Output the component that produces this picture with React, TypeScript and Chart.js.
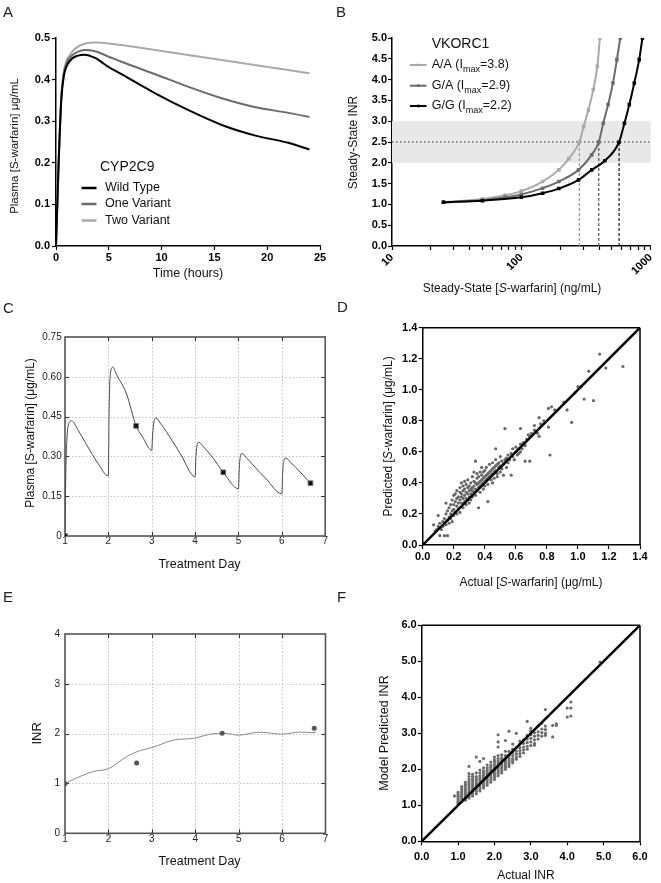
import React, { useEffect, useRef } from "react";
import { Chart, registerables } from "chart.js";

Chart.register(...registerables);

const FONT = "'Liberation Sans', Arial, Helvetica, sans-serif";
Chart.defaults.font.family = FONT;
Chart.defaults.color = "#111";

// ---------------- Panel A : plasma S-warfarin vs time ----------------
const A_TIME = [0, 0.25, 0.5, 0.75, 1, 1.5, 2, 2.7, 3.7, 5, 6.2, 9.4, 12.5, 15.7, 18.8, 22, 24];
const A_WILD = [0, 0.2, 0.35, 0.41, 0.432, 0.45, 0.457, 0.46, 0.452, 0.43, 0.413, 0.367, 0.327, 0.291, 0.266, 0.248, 0.232];
const A_ONE = [0, 0.2, 0.355, 0.415, 0.44, 0.458, 0.466, 0.471, 0.468, 0.455, 0.443, 0.413, 0.383, 0.355, 0.334, 0.32, 0.31];
const A_TWO = [0, 0.2, 0.36, 0.42, 0.445, 0.466, 0.478, 0.486, 0.489, 0.487, 0.483, 0.471, 0.459, 0.447, 0.435, 0.423, 0.415];
const A_NAMES = ["Wild Type", "One Variant", "Two Variant"];
const A_COLORS = ["#000000", "#6b6b6b", "#a9a9a9"];

// ---------------- Panel B : steady-state INR vs concentration ----------------
const B_AA_X = [25, 50, 75, 100, 146, 195, 233, 281, 303, 330, 360, 387, 405];
const B_AA_Y = [1.05, 1.13, 1.22, 1.32, 1.55, 1.83, 2.1, 2.5, 2.87, 3.27, 3.76, 4.32, 5.0];
const B_GA_X = [25, 50, 75, 100, 146, 195, 277, 350, 397, 430, 469, 511, 548, 582];
const B_GA_Y = [1.05, 1.1, 1.17, 1.24, 1.39, 1.55, 1.83, 2.19, 2.5, 2.95, 3.4, 3.92, 4.48, 5.0];
const B_GG_X = [25, 50, 100, 146, 195, 277, 350, 442, 570, 627, 684, 747, 815, 864];
const B_GG_Y = [1.05, 1.09, 1.17, 1.27, 1.38, 1.59, 1.83, 2.05, 2.5, 2.95, 3.4, 3.92, 4.48, 5.0];
const B_CROSS = [281, 397, 570];
const B_NAMES = ["A/A (I", "G/A (I", "G/G (I"];
const B_IMAX = ["=3.8)", "=2.9)", "=2.2)"];
const B_COLORS = ["#a9a9a9", "#6b6b6b", "#000000"];
const B_TARGET = 2.5;
const B_BAND = [2, 3];
const B_XTICKS = [10, 20, 30, 40, 50, 60, 70, 80, 90, 100, 200, 300, 400, 500, 600, 700, 800, 900, 1000];
const B_XLABELS = [10, 100, 1000];

// ---------------- Panel C : simulated plasma concentration by day ----------------
const C_DAY = [1.0, 1.02, 1.05, 1.1, 1.15, 1.3, 1.49, 1.76, 2.0,
  2.015, 2.04, 2.1, 2.2, 2.42, 2.64, 2.78, 3.0,
  3.02, 3.05, 3.1, 3.2, 3.35, 3.66, 4.0,
  4.02, 4.05, 4.09, 4.2, 4.4, 4.65, 5.0,
  5.02, 5.05, 5.08, 5.2, 5.4, 5.64, 6.0,
  6.02, 6.05, 6.09, 6.2, 6.4, 6.66];
const C_CONC = [0, 0.25, 0.38, 0.428, 0.434, 0.4, 0.346, 0.274, 0.226,
  0.45, 0.6, 0.636, 0.605, 0.535, 0.415, 0.376, 0.323,
  0.38, 0.43, 0.444, 0.425, 0.39, 0.31, 0.224,
  0.3, 0.345, 0.353, 0.335, 0.297, 0.24, 0.178,
  0.26, 0.305, 0.311, 0.292, 0.256, 0.215, 0.159,
  0.245, 0.285, 0.294, 0.278, 0.245, 0.199];
const C_OBS_DAY = [1.0, 2.64, 4.65, 6.66];
const C_OBS_CONC = [0, 0.415, 0.24, 0.199];

// ---------------- Panel D : predicted vs actual S-warfarin ----------------
const D_POINTS: [number, number][] = [
  [0.07, 0.13], [0.08, 0.09], [0.09, 0.1], [0.1, 0.19], [0.1, 0.12], [0.11, 0.06], [0.11, 0.14], [0.12, 0.1],
  [0.13, 0.15], [0.13, 0.12], [0.14, 0.06], [0.14, 0.17], [0.15, 0.27], [0.15, 0.13], [0.15, 0.2], [0.16, 0.16],
  [0.16, 0.22], [0.17, 0.18], [0.17, 0.14], [0.17, 0.24], [0.18, 0.2], [0.18, 0.17], [0.18, 0.26], [0.19, 0.22],
  [0.19, 0.15], [0.19, 0.29], [0.2, 0.23], [0.2, 0.19], [0.2, 0.32], [0.2, 0.26],
  [0.21, 0.21], [0.21, 0.28], [0.21, 0.33], [0.22, 0.25], [0.22, 0.3], [0.22, 0.2], [0.22, 0.35], [0.23, 0.27],
  [0.23, 0.31], [0.23, 0.23], [0.24, 0.29], [0.24, 0.34], [0.24, 0.21], [0.24, 0.37], [0.25, 0.31], [0.25, 0.27],
  [0.25, 0.33], [0.25, 0.4], [0.26, 0.3], [0.26, 0.24], [0.26, 0.35], [0.26, 0.38], [0.27, 0.32], [0.27, 0.28],
  [0.27, 0.36], [0.27, 0.41], [0.28, 0.3], [0.28, 0.34], [0.28, 0.26], [0.28, 0.39], [0.29, 0.33], [0.29, 0.37],
  [0.29, 0.29], [0.29, 0.42], [0.3, 0.35], [0.3, 0.31], [0.3, 0.38], [0.3, 0.27],
  [0.31, 0.36], [0.31, 0.33], [0.31, 0.4], [0.31, 0.29], [0.32, 0.37], [0.32, 0.35], [0.32, 0.44], [0.32, 0.31],
  [0.33, 0.38], [0.33, 0.34], [0.33, 0.41], [0.33, 0.47], [0.34, 0.36], [0.34, 0.4], [0.34, 0.32], [0.34, 0.54],
  [0.35, 0.39], [0.35, 0.43], [0.35, 0.35], [0.35, 0.46], [0.36, 0.4], [0.36, 0.37], [0.36, 0.44], [0.36, 0.24],
  [0.37, 0.41], [0.37, 0.38], [0.37, 0.47], [0.37, 0.34], [0.38, 0.42], [0.38, 0.45], [0.38, 0.39], [0.38, 0.5],
  [0.39, 0.43], [0.39, 0.4], [0.39, 0.47], [0.39, 0.36], [0.4, 0.44], [0.4, 0.41], [0.4, 0.48], [0.4, 0.38],
  [0.41, 0.45], [0.41, 0.42], [0.41, 0.5], [0.42, 0.46], [0.42, 0.43], [0.42, 0.39], [0.42, 0.28], [0.43, 0.47],
  [0.43, 0.44], [0.43, 0.52], [0.44, 0.48], [0.44, 0.42], [0.44, 0.45], [0.45, 0.49], [0.45, 0.46], [0.45, 0.4],
  [0.45, 0.53], [0.46, 0.47], [0.46, 0.5], [0.46, 0.43], [0.47, 0.51], [0.47, 0.48], [0.47, 0.55], [0.47, 0.62],
  [0.48, 0.46], [0.48, 0.52], [0.48, 0.44], [0.49, 0.5], [0.49, 0.53], [0.5, 0.57], [0.5, 0.47], [0.5, 0.51],
  [0.51, 0.54], [0.51, 0.49], [0.52, 0.52], [0.52, 0.45], [0.53, 0.55], [0.53, 0.75], [0.54, 0.5], [0.54, 0.56],
  [0.55, 0.58], [0.55, 0.53], [0.56, 0.55], [0.57, 0.59], [0.57, 0.45], [0.58, 0.57], [0.58, 0.62], [0.59, 0.55],
  [0.6, 0.6], [0.6, 0.63], [0.61, 0.58], [0.62, 0.59], [0.62, 0.62], [0.63, 0.6], [0.63, 0.65], [0.63, 0.75],
  [0.64, 0.62], [0.65, 0.66], [0.66, 0.54], [0.66, 0.64], [0.67, 0.68], [0.68, 0.71], [0.69, 0.7], [0.69, 0.54],
  [0.7, 0.72], [0.72, 0.74], [0.72, 0.77], [0.74, 0.72], [0.75, 0.82], [0.75, 0.7], [0.76, 0.78], [0.78, 0.8],
  [0.81, 0.88], [0.81, 0.76], [0.82, 0.58], [0.83, 0.89], [0.85, 0.87], [0.91, 0.92], [0.93, 0.87], [0.96, 0.79],
  [0.98, 0.98], [1.0, 1.02], [1.02, 1.02], [1.04, 0.94], [1.07, 1.12], [1.1, 0.93], [1.14, 1.23], [1.18, 1.14],
  [1.29, 1.15], [0.16, 0.06],
];
const D_MAX = 1.4;

// ---------------- Panel E : INR by day ----------------
const E_DAY = [1, 1.19, 1.65, 2.01, 2.42, 2.73, 3.0, 3.5, 3.99, 4.34, 4.65, 4.99, 5.49, 5.99, 6.41, 6.78];
const E_INR = [1, 1.08, 1.24, 1.3, 1.54, 1.66, 1.72, 1.87, 1.91, 1.99, 2.01, 1.97, 2.03, 1.99, 2.03, 2.02];
const E_OBS_DAY = [1.0, 2.65, 4.62, 6.74];
const E_OBS_INR = [1.0, 1.41, 2.01, 2.11];

// ---------------- Panel F : model predicted vs actual INR ----------------
const F_STRIPES: [number, number[]][] = [
  [0.9, [1.26]],
  [1.0, [1.06, 1.1, 1.15, 1.2, 1.25, 1.3, 1.36]],
  [1.1, [1.1, 1.15, 1.2, 1.25, 1.3, 1.35, 1.4, 1.46, 1.52]],
  [1.2, [1.14, 1.19, 1.24, 1.3, 1.35, 1.4, 1.46, 1.52, 1.58, 1.64]],
  [1.3, [1.2, 1.25, 1.3, 1.36, 1.42, 1.48, 1.54, 1.6, 1.66, 1.72, 1.8, 1.88, 2.08]],
  [1.4, [1.26, 1.32, 1.38, 1.44, 1.5, 1.56, 1.62, 1.68, 1.74, 1.8, 1.86]],
  [1.5, [1.32, 1.38, 1.44, 1.5, 1.56, 1.62, 1.68, 1.74, 1.8, 1.9, 2.34]],
  [1.6, [1.4, 1.46, 1.52, 1.58, 1.64, 1.7, 1.76, 1.82, 1.9, 1.98, 2.22]],
  [1.7, [1.48, 1.54, 1.6, 1.66, 1.72, 1.78, 1.84, 1.9, 1.96, 2.04, 2.3]],
  [1.8, [1.56, 1.62, 1.68, 1.74, 1.8, 1.86, 1.92, 1.98, 2.04, 2.12]],
  [1.9, [1.64, 1.7, 1.76, 1.82, 1.88, 1.94, 2.0, 2.06, 2.12, 2.2]],
  [2.0, [1.72, 1.78, 1.84, 1.9, 1.96, 2.02, 2.08, 2.14, 2.2, 2.26, 2.34]],
  [2.1, [1.82, 1.88, 1.94, 2.0, 2.06, 2.12, 2.18, 2.24, 2.3, 2.38, 2.62, 2.76, 2.96]],
  [2.2, [1.9, 1.96, 2.02, 2.08, 2.14, 2.2, 2.26, 2.32, 2.4]],
  [2.3, [2.0, 2.06, 2.12, 2.18, 2.24, 2.3, 2.38, 2.5, 2.8]],
  [2.4, [2.08, 2.14, 2.2, 2.26, 2.32, 2.4, 2.5, 3.06]],
  [2.5, [2.18, 2.24, 2.3, 2.38, 2.46, 2.56, 2.7]],
  [2.6, [2.28, 2.34, 2.42, 2.5, 2.6, 3.0]],
  [2.7, [2.36, 2.44, 2.52, 2.6, 2.7, 2.78]],
  [2.8, [2.46, 2.54, 2.62, 2.72, 2.82]],
  [2.9, [2.56, 2.64, 2.74, 2.84, 2.94, 3.33]],
  [3.0, [2.66, 2.76, 2.86, 2.96, 3.06, 3.14]],
  [3.1, [2.67, 2.72, 2.82, 2.92, 3.02]],
  [3.2, [2.84, 2.94, 3.04, 3.2]],
  [3.3, [2.92, 3.02, 3.12, 3.28]],
  [3.4, [2.94, 3.0, 3.1, 3.2, 3.66]],
  [3.6, [2.9, 3.22]],
  [3.7, [3.22, 3.26]],
  [4.0, [3.45, 3.7]],
  [4.1, [3.48, 3.7, 3.87]],
  [4.9, [4.98]],
];
const F_MAX = 6;

// ---------------- helpers ----------------
type Area = { w: number; h: number; l: number; t: number; r: number; b: number };
type Seg = { t: string; it?: boolean; sub?: boolean };

function richText(ctx: CanvasRenderingContext2D, segs: Seg[], x: number, y: number, size: number, rot = false, align: "center" | "left" = "center") {
  ctx.save();
  ctx.translate(x, y);
  if (rot) ctx.rotate(-Math.PI / 2);
  ctx.fillStyle = "#111";
  ctx.textBaseline = "middle";
  ctx.textAlign = "left";
  const fontOf = (s: Seg) => `${s.it ? "italic " : ""}${s.sub ? Math.round(size * 0.72) : size}px ${FONT}`;
  let total = 0;
  for (const s of segs) {
    ctx.font = fontOf(s);
    total += ctx.measureText(s.t).width;
  }
  let cx = align === "left" ? 0 : -total / 2;
  for (const s of segs) {
    ctx.font = fontOf(s);
    ctx.fillText(s.t, cx, s.sub ? size * 0.38 : 0);
    cx += ctx.measureText(s.t).width;
  }
  ctx.restore();
}

function letter(ctx: CanvasRenderingContext2D, t: string, x: number, y: number) {
  ctx.save();
  ctx.font = `15px ${FONT}`;
  ctx.fillStyle = "#222";
  ctx.textBaseline = "alphabetic";
  ctx.textAlign = "left";
  ctx.fillText(t, x, y);
  ctx.restore();
}

function seg(ctx: CanvasRenderingContext2D, x1: number, y1: number, x2: number, y2: number) {
  ctx.beginPath();
  ctx.moveTo(x1, y1);
  ctx.lineTo(x2, y2);
  ctx.stroke();
}

function baseOptions(a: Area, scales: any) {
  return {
    responsive: false,
    maintainAspectRatio: false,
    animation: false,
    devicePixelRatio: 1,
    events: [],
    layout: { padding: { left: 0, top: a.t, right: a.w - a.r, bottom: 0 } },
    plugins: { legend: { display: false }, tooltip: { enabled: false } },
    scales,
  };
}

function prismAxis(axis: "x" | "y", a: Area, extra: any) {
  const { ticks, ...rest } = extra;
  return {
    type: "linear",
    afterFit: (s: any) => {
      if (axis === "x") s.height = a.h - a.b;
      else s.width = a.l;
    },
    grid: { drawOnChartArea: false, drawTicks: true, tickLength: 4, tickColor: "#000", tickWidth: 1.2 },
    border: { display: true, color: "#000", width: 1.5 },
    ...rest,
    ticks: { font: { size: 11, weight: "bold" }, color: "#000", autoSkip: false, maxRotation: 0, ...ticks },
  };
}

function boxAxis(axis: "x" | "y", a: Area, extra: any) {
  const { ticks, ...rest } = extra;
  return {
    type: "linear",
    afterFit: (s: any) => {
      if (axis === "x") s.height = a.h - a.b;
      else s.width = a.l;
    },
    grid: { display: false, drawTicks: false, tickLength: 0 },
    border: { display: false },
    ...rest,
    ticks: { font: { size: 10 }, color: "#222", autoSkip: false, maxRotation: 0, ...ticks },
  };
}

function boxDecor(chart: any) {
  const { ctx, chartArea: ca, scales } = chart;
  const xs = scales.x.ticks.map((t: any) => t.value);
  const ys = scales.y.ticks.map((t: any) => t.value);
  ctx.save();
  ctx.strokeStyle = "#c4c4c4";
  ctx.lineWidth = 1;
  ctx.setLineDash([1.5, 2]);
  for (const v of xs.slice(1, -1)) {
    const p = Math.round(scales.x.getPixelForValue(v)) + 0.5;
    seg(ctx, p, ca.top, p, ca.bottom);
  }
  for (const v of ys.slice(1, -1)) {
    const p = Math.round(scales.y.getPixelForValue(v)) + 0.5;
    seg(ctx, ca.left, p, ca.right, p);
  }
  ctx.setLineDash([]);
  ctx.strokeStyle = "#333";
  ctx.lineWidth = 1.1;
  for (const v of xs.slice(1, -1)) {
    const p = Math.round(scales.x.getPixelForValue(v)) + 0.5;
    seg(ctx, p, ca.bottom, p, ca.bottom - 4);
    seg(ctx, p, ca.top, p, ca.top + 4);
  }
  for (const v of ys.slice(1, -1)) {
    const p = Math.round(scales.y.getPixelForValue(v)) + 0.5;
    seg(ctx, ca.left, p, ca.left + 4, p);
    seg(ctx, ca.right, p, ca.right - 4, p);
  }
  ctx.strokeStyle = "#555";
  ctx.lineWidth = 1.6;
  ctx.strokeRect(ca.left, ca.top, ca.right - ca.left, ca.bottom - ca.top);
  ctx.restore();
}

function frameTopRight(chart: any) {
  const { ctx, chartArea: ca } = chart;
  ctx.save();
  ctx.strokeStyle = "#000";
  ctx.lineWidth = 1.5;
  seg(ctx, ca.left, ca.top, ca.right, ca.top);
  seg(ctx, ca.right, ca.top, ca.right, ca.bottom);
  ctx.restore();
}

const xy = (xs: number[], ys: number[]) => xs.map((x, i) => ({ x, y: ys[i] }));

// ---------------- chart configs ----------------
const AREA_A: Area = { w: 330, h: 290, l: 56, t: 38, r: 320, b: 246 };
function makeA(): any {
  const a = AREA_A;
  const series = [A_WILD, A_ONE, A_TWO];
  return {
    type: "scatter",
    data: {
      datasets: series.map((s, i) => ({
        data: xy(A_TIME, s),
        showLine: true,
        borderColor: A_COLORS[i],
        borderWidth: 2,
        pointRadius: 0,
        cubicInterpolationMode: "monotone",
      })),
    },
    options: baseOptions(a, {
      x: prismAxis("x", a, { min: 0, max: 25, ticks: { stepSize: 5, padding: 1 } }),
      y: prismAxis("y", a, { min: 0, max: 0.5, ticks: { stepSize: 0.1, padding: 2, callback: (v: any) => Number(v).toFixed(1) } }),
    }),
    plugins: [{
      id: "decoA",
      afterDraw(chart: any) {
        const ctx = chart.ctx;
        letter(ctx, "A", 3, 17);
        richText(ctx, [{ t: "Plasma [S-warfarin] μg/mL" }], 15, 146, 11.5, true);
        richText(ctx, [{ t: "Time (hours)" }], 188, 274, 12.5);
        richText(ctx, [{ t: "CYP2C9" }], 100, 167, 14, false, "left");
        const ys = [188, 204, 220.5];
        ctx.save();
        ctx.lineWidth = 2.5;
        A_NAMES.forEach((n, i) => {
          ctx.strokeStyle = A_COLORS[i];
          seg(ctx, 81.5, ys[i], 96.5, ys[i]);
          richText(ctx, [{ t: n }], 105, ys[i], 12.5, false, "left");
        });
        ctx.restore();
      },
    }],
  };
}

const AREA_B: Area = { w: 331, h: 300, l: 62, t: 38, r: 325, b: 246 };
function makeB(): any {
  const a = AREA_B;
  const curves = [
    { d: xy(B_GG_X, B_GG_Y), c: B_COLORS[2] },
    { d: xy(B_GA_X, B_GA_Y), c: B_COLORS[1] },
    { d: xy(B_AA_X, B_AA_Y), c: B_COLORS[0] },
  ];
  const datasets: any[] = curves.map((cv) => ({
    data: cv.d,
    showLine: true,
    borderColor: cv.c,
    backgroundColor: cv.c,
    borderWidth: 2,
    pointRadius: 1.1,
    pointStyle: "rect",
    cubicInterpolationMode: "monotone",
  }));
  B_CROSS.forEach((x, i) => {
    datasets.push({
      data: [{ x, y: 0 }, { x, y: B_TARGET }],
      showLine: true,
      borderColor: ["#9a9a9a", "#555", "#111"][i],
      borderWidth: 1.2,
      borderDash: [3, 2],
      pointRadius: 0,
    });
  });
  datasets.push({
    data: [{ x: 10, y: B_TARGET }, { x: 1000, y: B_TARGET }],
    showLine: true,
    borderColor: "#333",
    borderWidth: 1,
    borderDash: [1.5, 2.5],
    pointRadius: 0,
  });
  return {
    type: "scatter",
    data: { datasets },
    options: baseOptions(a, {
      x: prismAxis("x", a, {
        type: "logarithmic",
        min: 10,
        max: 1000,
        afterBuildTicks: (s: any) => { s.ticks = B_XTICKS.map((v) => ({ value: v })); },
        ticks: {
          padding: 1,
          minRotation: 45,
          maxRotation: 45,
          callback: (v: any) => (B_XLABELS.includes(Number(v)) ? String(v) : ""),
        },
      }),
      y: prismAxis("y", a, { min: 0, max: 5, ticks: { stepSize: 0.5, padding: 1, callback: (v: any) => Number(v).toFixed(1) } }),
    }),
    plugins: [{
      id: "decoB",
      beforeDatasetsDraw(chart: any) {
        const { ctx, chartArea: ca, scales } = chart;
        const y1 = scales.y.getPixelForValue(B_BAND[1]);
        const y0 = scales.y.getPixelForValue(B_BAND[0]);
        ctx.save();
        ctx.fillStyle = "#e8e8e8";
        ctx.fillRect(ca.left, y1, ca.right - ca.left, y0 - y1);
        ctx.restore();
      },
      afterDraw(chart: any) {
        const ctx = chart.ctx;
        letter(ctx, "B", 6, 17);
        richText(ctx, [{ t: "Steady-State INR" }], 23.3, 142.5, 12, true);
        richText(ctx, [{ t: "Steady-State [" }, { t: "S", it: true }, { t: "-warfarin] (ng/mL)" }], 182, 289, 12);
        richText(ctx, [{ t: "VKORC1" }], 101.7, 44, 14, false, "left");
        const ys = [65, 85.7, 106];
        ctx.save();
        B_NAMES.forEach((n, i) => {
          ctx.strokeStyle = B_COLORS[i];
          ctx.fillStyle = B_COLORS[i];
          ctx.lineWidth = 2;
          seg(ctx, 80, ys[i], 96.5, ys[i]);
          ctx.fillRect(87, ys[i] - 1.3, 2.6, 2.6);
          richText(ctx, [{ t: n }, { t: "max", sub: true }, { t: B_IMAX[i] }], 101.7, ys[i], 12.5, false, "left");
        });
        ctx.restore();
      },
    }],
  };
}

const AREA_C: Area = { w: 330, h: 300, l: 65, t: 47, r: 325.5, b: 246 };
function makeC(): any {
  const a = AREA_C;
  return {
    type: "scatter",
    data: {
      datasets: [
        {
          data: xy(C_OBS_DAY, C_OBS_CONC),
          pointStyle: "rect",
          pointRadius: 3.4,
          backgroundColor: "#111",
          borderColor: "#777",
          borderWidth: 0.8,
        },
        {
          data: xy(C_DAY, C_CONC),
          showLine: true,
          borderColor: "#4a4a4a",
          borderWidth: 1,
          pointRadius: 0,
          cubicInterpolationMode: "monotone",
        },
      ],
    },
    options: baseOptions(a, {
      x: boxAxis("x", a, { min: 1, max: 7, ticks: { stepSize: 1, padding: -1 } }),
      y: boxAxis("y", a, {
        min: 0, max: 0.75,
        ticks: { stepSize: 0.15, padding: 3.3, callback: (v: any) => (Number(v) === 0 ? "0" : Number(v).toFixed(2)) },
      }),
    }),
    plugins: [{
      id: "decoC",
      beforeDatasetsDraw(chart: any) { boxDecor(chart); },
      afterDraw(chart: any) {
        const ctx = chart.ctx;
        letter(ctx, "C", 3, 23);
        richText(ctx, [{ t: "Plasma [S-warfarin] (μg/mL)" }], 31, 143, 12, true);
        richText(ctx, [{ t: "Treatment Day" }], 199.5, 275, 12.5);
      },
    }],
  };
}

const AREA_D: Area = { w: 331, h: 300, l: 92.7, t: 37.7, r: 310, b: 255 };
function makeD(): any {
  const a = AREA_D;
  return {
    type: "scatter",
    data: {
      datasets: [
        {
          data: [{ x: 0, y: 0 }, { x: D_MAX, y: D_MAX }],
          showLine: true,
          borderColor: "#000",
          borderWidth: 2.5,
          pointRadius: 0,
        },
        {
          data: D_POINTS.map(([x, y]) => ({ x, y })),
          pointRadius: 1.6,
          backgroundColor: "#686868",
          borderWidth: 0,
        },
      ],
    },
    options: baseOptions(a, {
      x: prismAxis("x", a, { min: 0, max: D_MAX, ticks: { stepSize: 0.2, padding: 1.5, callback: (v: any) => Number(v).toFixed(1) } }),
      y: prismAxis("y", a, { min: 0, max: D_MAX, ticks: { stepSize: 0.2, padding: 1.4, callback: (v: any) => Number(v).toFixed(1) } }),
    }),
    plugins: [{
      id: "decoD",
      afterDraw(chart: any) {
        const ctx = chart.ctx;
        frameTopRight(chart);
        letter(ctx, "D", 7, 22);
        richText(ctx, [{ t: "Predicted [" }, { t: "S", it: true }, { t: "-warfarin] (μg/mL)" }], 58.3, 146.4, 12, true);
        richText(ctx, [{ t: "Actual [" }, { t: "S", it: true }, { t: "-warfarin] (μg/mL)" }], 201, 292.5, 12);
      },
    }],
  };
}

const AREA_E: Area = { w: 330, h: 293, l: 65, t: 44, r: 325.5, b: 243.3 };
function makeE(): any {
  const a = AREA_E;
  return {
    type: "scatter",
    data: {
      datasets: [
        {
          data: xy(E_OBS_DAY, E_OBS_INR),
          pointRadius: 2.5,
          backgroundColor: "#555",
          borderWidth: 0,
        },
        {
          data: xy(E_DAY, E_INR),
          showLine: true,
          borderColor: "#8a8a8a",
          borderWidth: 1,
          pointRadius: 0,
          cubicInterpolationMode: "monotone",
        },
      ],
    },
    options: baseOptions(a, {
      x: boxAxis("x", a, { min: 1, max: 7, ticks: { stepSize: 1, padding: 0 } }),
      y: boxAxis("y", a, { min: 0, max: 4, ticks: { stepSize: 1, padding: 5 } }),
    }),
    plugins: [{
      id: "decoE",
      beforeDatasetsDraw(chart: any) { boxDecor(chart); },
      afterDraw(chart: any) {
        const ctx = chart.ctx;
        letter(ctx, "E", 3, 12);
        richText(ctx, [{ t: "INR" }], 37.7, 143.3, 13, true);
        richText(ctx, [{ t: "Treatment Day" }], 199.5, 271.7, 12.5);
      },
    }],
  };
}

const AREA_F: Area = { w: 331, h: 293, l: 91.7, t: 35.3, r: 310, b: 251.3 };
function makeF(): any {
  const a = AREA_F;
  const pts: { x: number; y: number }[] = [];
  F_STRIPES.forEach(([x, ys]) => ys.forEach((y) => pts.push({ x, y })));
  return {
    type: "scatter",
    data: {
      datasets: [
        {
          data: [{ x: 0, y: 0 }, { x: F_MAX, y: F_MAX }],
          showLine: true,
          borderColor: "#000",
          borderWidth: 2.5,
          pointRadius: 0,
        },
        {
          data: pts,
          pointRadius: 1.6,
          backgroundColor: "#6e6e6e",
          borderWidth: 0,
        },
      ],
    },
    options: baseOptions(a, {
      x: prismAxis("x", a, { min: 0, max: F_MAX, ticks: { stepSize: 1, padding: 5, callback: (v: any) => Number(v).toFixed(1) } }),
      y: prismAxis("y", a, { min: 0, max: F_MAX, ticks: { stepSize: 1, padding: 1, callback: (v: any) => Number(v).toFixed(1) } }),
    }),
    plugins: [{
      id: "decoF",
      afterDraw(chart: any) {
        const ctx = chart.ctx;
        frameTopRight(chart);
        letter(ctx, "F", 7, 12);
        richText(ctx, [{ t: "Model Predicted INR" }], 55, 143, 12.5, true);
        richText(ctx, [{ t: "Actual INR" }], 196, 286, 12);
      },
    }],
  };
}

function Panel({ left, top, area, make }: { left: number; top: number; area: Area; make: () => any }) {
  const ref = useRef<HTMLCanvasElement>(null);
  useEffect(() => {
    const chart = new Chart(ref.current as HTMLCanvasElement, make());
    return () => chart.destroy();
  }, []);
  return (
    <canvas
      ref={ref}
      width={area.w}
      height={area.h}
      style={{ position: "absolute", left, top, width: area.w, height: area.h }}
    />
  );
}

export default function App() {
  return (
    <div style={{ position: "absolute", left: 0, top: 0, width: 661, height: 883, background: "#fff", overflow: "hidden" }}>
      <Panel left={0} top={0} area={AREA_A} make={makeA} />
      <Panel left={0} top={290} area={AREA_C} make={makeC} />
      <Panel left={0} top={590} area={AREA_E} make={makeE} />
      <Panel left={330} top={290} area={AREA_D} make={makeD} />
      <Panel left={330} top={590} area={AREA_F} make={makeF} />
      <Panel left={330} top={0} area={AREA_B} make={makeB} />
    </div>
  );
}
